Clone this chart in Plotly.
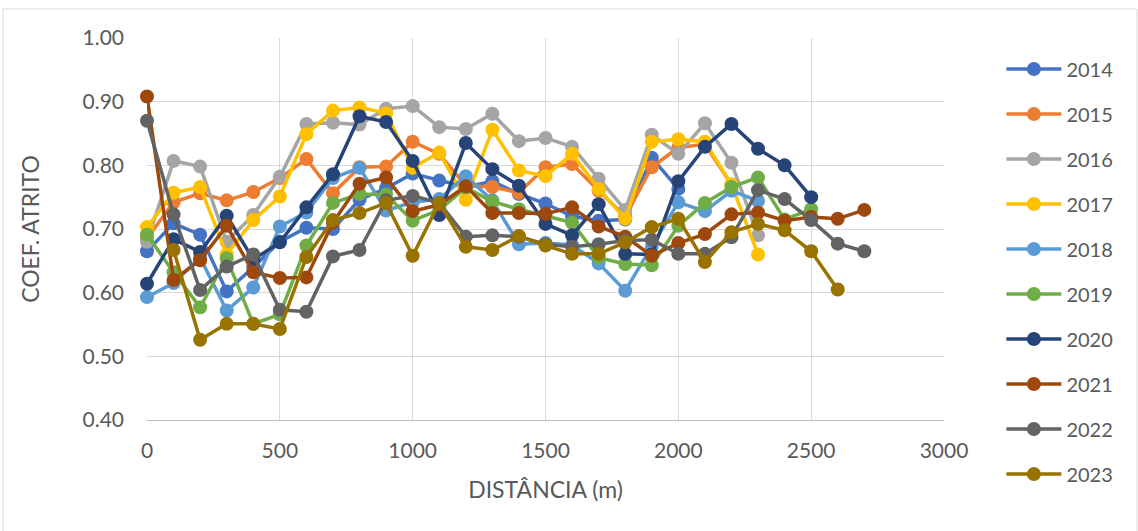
import plotly.graph_objects as go

years = ["2014", "2015", "2016", "2017", "2018", "2019", "2020", "2021", "2022", "2023"]
colors = ["#4472C4", "#ED7D31", "#A5A5A5", "#FFC000", "#5B9BD5",
          "#70AD47", "#264478", "#9E480E", "#636363", "#997300"]

# distance start (m) for each series; points every 100 m
start_2014 = 0
v2014 = [0.665, 0.709, 0.691, 0.602, 0.640, 0.680, 0.702, 0.700, 0.746, 0.764, 0.787,
         0.776, 0.766, 0.775, 0.755, 0.740, 0.720, 0.713, 0.715, 0.812, 0.763]
start_2015 = 0
v2015 = [0.685, 0.742, 0.756, 0.745, 0.758, 0.780, 0.810, 0.756, 0.797, 0.798, 0.837,
         0.818, 0.768, 0.766, 0.757, 0.797, 0.802, 0.760, 0.720, 0.797, 0.828, 0.833, 0.770]
start_2016 = 0
v2016 = [0.680, 0.807, 0.798, 0.680, 0.722, 0.782, 0.865, 0.867, 0.864, 0.889, 0.893,
         0.860, 0.857, 0.881, 0.838, 0.843, 0.829, 0.779, 0.730, 0.848, 0.818, 0.866,
         0.804, 0.690]
start_2017 = 0
v2017 = [0.703, 0.757, 0.766, 0.660, 0.714, 0.751, 0.849, 0.886, 0.891, 0.882, 0.796,
         0.820, 0.746, 0.856, 0.792, 0.783, 0.818, 0.763, 0.716, 0.837, 0.841, 0.837,
         0.770, 0.660]
start_2018 = 0
v2018 = [0.593, 0.615, 0.655, 0.572, 0.608, 0.704, 0.726, 0.780, 0.796, 0.729, 0.742,
         0.747, 0.783, 0.745, 0.676, 0.678, 0.675, 0.646, 0.603, 0.672, 0.742, 0.728,
         0.760, 0.744]
start_2019 = 0
v2019 = [0.691, 0.632, 0.577, 0.654, 0.551, 0.566, 0.674, 0.741, 0.755, 0.754, 0.713,
         0.730, 0.765, 0.743, 0.731, 0.720, 0.710, 0.655, 0.645, 0.643, 0.705, 0.741,
         0.766, 0.781, 0.715, 0.731]
start_2020 = 0
v2020 = [0.614, 0.684, 0.664, 0.721, 0.652, 0.679, 0.734, 0.786, 0.877, 0.868, 0.807,
         0.722, 0.835, 0.794, 0.768, 0.708, 0.690, 0.739, 0.661, 0.660, 0.775, 0.829,
         0.865, 0.826, 0.800, 0.750]
start_2021 = 0
v2021 = [0.908, 0.620, 0.651, 0.705, 0.632, 0.623, 0.624, 0.710, 0.771, 0.781, 0.728,
         0.738, 0.767, 0.725, 0.725, 0.724, 0.734, 0.704, 0.688, 0.658, 0.678, 0.692,
         0.723, 0.726, 0.713, 0.719, 0.716, 0.730]
start_2022 = 0
v2022 = [0.870, 0.723, 0.604, 0.641, 0.660, 0.573, 0.570, 0.657, 0.667, 0.745, 0.752,
         0.741, 0.688, 0.690, 0.688, 0.676, 0.672, 0.676, 0.682, 0.683, 0.661, 0.661,
         0.687, 0.761, 0.747, 0.714, 0.677, 0.665]
start_2023 = 100
v2023 = [0.667, 0.526, 0.551, 0.551, 0.543, 0.656, 0.714, 0.725, 0.741, 0.658,
         0.741, 0.672, 0.667, 0.689, 0.674, 0.661, 0.661, 0.679, 0.703, 0.716, 0.648,
         0.695, 0.708, 0.698, 0.665, 0.605]

step = 100
series = [(start_2014, v2014), (start_2015, v2015), (start_2016, v2016), (start_2017, v2017),
          (start_2018, v2018), (start_2019, v2019), (start_2020, v2020), (start_2021, v2021),
          (start_2022, v2022), (start_2023, v2023)]

FONT = "Lato"
TXT = "#595959"
GRID = "#D9D9D9"

fig = go.Figure()
for name, col, (s, vals) in zip(years, colors, series):
    xs = [s + i * step for i in range(len(vals))]
    fig.add_trace(go.Scatter(
        x=xs, y=vals, name=name, mode="lines+markers",
        line=dict(color=col, width=3.5),
        marker=dict(color=col, size=14),
        cliponaxis=False, legendgroup=name,
    ))

fig.update_layout(
    width=1138, height=531,
    margin=dict(l=147, r=194, t=38, b=111),
    paper_bgcolor="white", plot_bgcolor="white",
    font=dict(family=FONT, size=21, color=TXT),
    showlegend=True,
    legend=dict(x=1.072, xanchor="left", y=0.97, yanchor="top",
                font=dict(family=FONT, size=20, color=TXT),
                itemwidth=55, tracegroupgap=16, traceorder="grouped",
                maxheight=525, bgcolor="rgba(0,0,0,0)"),
    xaxis=dict(range=[0, 3000], dtick=500, tick0=0, showgrid=True, gridcolor=GRID,
               gridwidth=1, zeroline=False, showline=True, linecolor="#BFBFBF",
               ticks="", ticklabelstandoff=12,
               tickfont=dict(family=FONT, size=21, color=TXT),
               title=dict(text="DISTÂNCIA (m)", standoff=20,
                          font=dict(family=FONT, size=23, color=TXT))),
    yaxis=dict(range=[0.40, 1.00], dtick=0.1, tick0=0.4, tickformat=".2f",
               showgrid=True, gridcolor=GRID, gridwidth=1, zeroline=False,
               showline=False, ticks="", ticklabelstandoff=22,
               tickfont=dict(family=FONT, size=21, color=TXT),
               title=dict(text="COEF. ATRITO", standoff=36,
                          font=dict(family=FONT, size=23, color=TXT))),
    shapes=[dict(type="rect", xref="paper", yref="paper",
                 x0=(3 - 147) / 797, x1=(1137 - 147) / 797,
                 y0=(420 - 535) / 382, y1=(420 - 9) / 382,
                 line=dict(color="#D9D9D9", width=1), fillcolor="rgba(0,0,0,0)",
                 layer="below")],
)

fig.write_html("out.html", config={"displayModeBar": False},
               post_script="document.body.style.margin='0';")
